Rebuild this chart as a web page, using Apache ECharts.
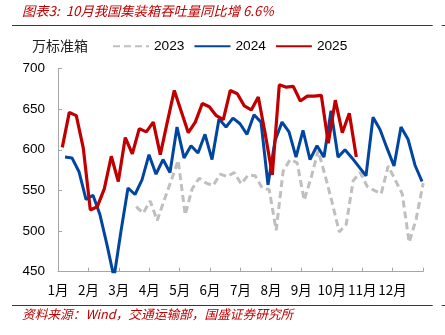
<!DOCTYPE html>
<html><head><meta charset="utf-8">
<script src="https://cdn.jsdelivr.net/npm/echarts@6/dist/echarts.min.js"></script>
<style>html,body{margin:0;padding:0;background:#fff}#c{width:445px;height:335px}</style>
</head><body><div id="c"></div>
<script>
const monthLabels = ['1月','2月','3月','4月','5月','6月','7月','8月','9月','10月','11月','12月'];
const seriesNames = ['2023','2024','2025'];
// weekly throughput, 万标准箱
const s2023 = [530,522,537,513,538,562,587,520,552,565,559,556,570,567,572,558,569,568,553,551,501,574,588,584,538,566,599,568,535,499,508,562,572,555,550,546,580,563,546,486,515,559];
const s2024 = [591,590,573,539,544,520,483,443,500,553,545,563,594,570,588,572,628,590,605,596,619,588,638,628,639,632,619,643,634,557,611,634,622,591,624,588,605,591,648,591,600,590,579,568,640,625,602,580,628,613,581,561];
const s2025 = [603,646,642,602,526,530,552,592,561,615,595,626,622,634,594,634,673,647,621,634,657,653,642,637,673,669,654,649,665,619,569,680,677,678,660,666,666,667,608,661,621,645,591];
// first week's position within the year (in months) for each series
const start2023 = 2.57, start2024 = 0.23, start2025 = 0.141;
const WEEK = 12 / 52.14;
function pts(arr, start) { return arr.map((v, i) => [start + i * WEEK, v]); }

const RED = '#c00000', BLUE = '#0046a0', GRAY = '#bfbfbf', AX = '#a6a6a6';
const LAT = '"Liberation Sans", Arial, "Noto Sans CJK SC", sans-serif';
const CJK = '"Noto Sans CJK SC", "Liberation Sans", sans-serif';

const chart = echarts.init(document.getElementById('c'), null, {renderer: 'canvas'});
chart.setOption({
  animation: false,
  backgroundColor: '#fff',
  grid: {left: 58, right: 22, top: 68.5, bottom: 63.3},
  legend: {
    data: seriesNames, left: 112, top: 39.5, padding: 0, itemWidth: 36, itemHeight: 14, itemGap: 9,
    itemStyle: {opacity: 0},
    textStyle: {fontSize: 13.7, fontFamily: LAT, color: '#000'}
  },
  xAxis: {
    type: 'value', min: 0, max: 12, interval: 1,
    axisLine: {show: true, lineStyle: {color: AX, width: 1}},
    axisTick: {show: true, inside: true, length: 4, lineStyle: {color: AX}},
    axisLabel: {
      margin: 11, fontSize: 13.5, color: '#000', fontFamily: CJK,
      formatter: v => (v < 12 ? monthLabels[Math.round(v)] : '')
    },
    splitLine: {show: false}
  },
  yAxis: {
    type: 'value', min: 450, max: 700, interval: 50,
    axisLine: {show: true, lineStyle: {color: AX, width: 1}},
    axisTick: {show: true, inside: true, length: 4, lineStyle: {color: AX}},
    axisLabel: {margin: 13, fontSize: 13.5, color: '#000', fontFamily: LAT},
    splitLine: {show: false}
  },
  series: [
    {name: seriesNames[0], type: 'line', symbol: 'none', data: pts(s2023, start2023),
     lineStyle: {color: GRAY, width: 3, type: [7, 4]}, itemStyle: {color: GRAY}},
    {name: seriesNames[1], type: 'line', symbol: 'none', data: pts(s2024, start2024),
     lineStyle: {color: BLUE, width: 3}, itemStyle: {color: BLUE}},
    {name: seriesNames[2], type: 'line', symbol: 'none', data: pts(s2025, start2025),
     lineStyle: {color: RED, width: 3.2}, itemStyle: {color: RED}}
  ],
  graphic: [
    {type: 'text', left: 22, top: 4, style: {text: '图表3:  10月我国集装箱吞吐量同比增 6.6%', fill: RED,
      font: 'italic 13.3px ' + CJK}},
    {type: 'line', shape: {x1: 12, y1: 25.5, x2: 432.7, y2: 25.5}, style: {stroke: RED, lineWidth: 1}},
    {type: 'line', shape: {x1: 441.7, y1: 25.5, x2: 445, y2: 25.5}, style: {stroke: RED, lineWidth: 1}},
    {type: 'text', left: 32, top: 39, style: {text: '万标准箱', fill: '#222', font: '14px ' + CJK}},
    {type: 'line', shape: {x1: 12, y1: 305.5, x2: 432.7, y2: 305.5}, style: {stroke: RED, lineWidth: 1}},
    {type: 'line', shape: {x1: 441.7, y1: 305.5, x2: 445, y2: 305.5}, style: {stroke: RED, lineWidth: 1}},
    {type: 'text', left: 22, top: 308, style: {text: '资料来源：Wind，交通运输部，国盛证券研究所', fill: RED,
      font: 'italic 12.7px ' + CJK}}
  ]
});
</script>
</body></html>
